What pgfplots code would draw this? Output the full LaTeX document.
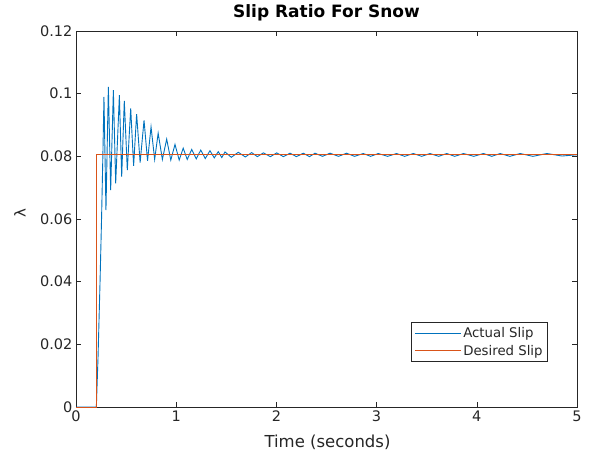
\documentclass[border=0pt]{standalone}
\usepackage{fontspec}
\setmainfont{DejaVu Sans}
\usepackage{pgfplots}
\pgfplotsset{compat=1.18}
\definecolor{mblue}{rgb}{0,0.447,0.741}
\definecolor{morange}{rgb}{0.85,0.325,0.098}
\definecolor{mgray}{rgb}{0.15,0.15,0.15}
\begin{document}
\begin{tikzpicture}
\begin{axis}[
  scale only axis, width=501pt, height=376pt,
  xmin=0, xmax=5, ymin=0, ymax=0.12,
  xtick={0,1,2,3,4,5}, xticklabels={0,1,2,3,4,5},
  ytick={0,0.02,0.04,0.06,0.08,0.1,0.12},
  yticklabels={0,0.02,0.04,0.06,0.08,0.1,0.12},
  xtick pos=both, ytick pos=both, tick align=inside,
  major tick length=5pt,
  axis line style={mgray}, tick style={mgray, line width=0.6pt},
  every axis/.append style={line width=0.6pt},
  ticklabel style={font=\fontsize{14.5}{16}\selectfont, text=mgray},
  /pgf/number format/assume math mode=true,
  title={Slip Ratio For Snow},
  title style={font=\fontsize{17}{19}\selectfont\bfseries, at={(axis description cs:0.5,1.032)}, anchor=center},
  xlabel={Time (seconds)},
  xlabel style={font=\fontsize{16.5}{18}\selectfont, text=mgray, at={(axis description cs:0.502,-0.094)}, anchor=center},
  ylabel={λ},
  ylabel style={font=\fontsize{15}{17}\selectfont, text=mgray, at={(axis description cs:-0.112,0.516)}, anchor=center},
  legend style={at={(0.942,0.12)}, anchor=south east, draw=mgray,
    font=\fontsize{13.3}{15}\selectfont, cells={anchor=west},
    inner xsep=3pt, inner ysep=3pt, row sep=2pt},
  legend image code/.code={\draw[#1] (0pt,0pt) -- (46pt,0pt);},
]
\addplot[mblue, line width=0.9pt] coordinates {
(0,0) (0.203,0) (0.22,0.016) (0.24,0.040) (0.255,0.060) (0.268,0.080) (0.279,0.099)
(0.299,0.0628) (0.323,0.1022) (0.346,0.0692) (0.373,0.1011) (0.396,0.0714)
(0.433,0.0995) (0.456,0.0735) (0.482,0.0977) (0.512,0.0756) (0.546,0.0953)
(0.575,0.0770) (0.605,0.0935) (0.64,0.0780) (0.679,0.0915) (0.714,0.0786)
(0.749,0.0894) (0.785,0.0790) (0.82,0.0874) (0.862,0.0790) (0.905,0.0855)
(0.946,0.0788) (0.988,0.0838) (1.03,0.0788) (1.07,0.0826) (1.11,0.0790)
(1.155,0.0822) (1.2,0.0792) (1.245,0.0820) (1.29,0.0793) (1.337,0.0818)
(1.38,0.0795) (1.42,0.0815) (1.455,0.0796) (1.487,0.0814) (1.55,0.0797)
(1.62,0.0813) (1.69,0.0798) (1.753,0.0812) (1.81,0.0799) (1.87,0.0811)
(1.94,0.0799) (2.003,0.0811) (2.07,0.0799) (2.136,0.0810) (2.2,0.0799)
(2.269,0.0810) (2.33,0.0799) (2.385,0.0810) (2.46,0.0800) (2.535,0.0810)
(2.62,0.0800) (2.7,0.0810) (2.78,0.0800) (2.867,0.0809) (2.94,0.0800)
(3.017,0.0809) (3.11,0.0800) (3.2,0.0809) (3.28,0.0800) (3.367,0.0809)
(3.45,0.0800) (3.533,0.0809) (3.62,0.0800) (3.7,0.0809) (3.78,0.0800)
(3.867,0.0809) (3.97,0.0800) (4.066,0.0809) (4.15,0.0800) (4.233,0.0809)
(4.33,0.0800) (4.433,0.0809) (4.56,0.0800) (4.7,0.0809) (4.85,0.0801) (5,0.0805)
};
\addlegendentry{\textcolor{mgray}{Actual Slip}}
\addplot[morange, line width=0.9pt] coordinates {
(0,0) (0.2,0) (0.2,0.0805) (5,0.0805)
};
\addlegendentry{\textcolor{mgray}{Desired Slip}}
\end{axis}
\pgfresetboundingbox
\path[use as bounding box] ([xshift=-76pt,yshift=-46pt]current axis.south west) rectangle ([xshift=17pt,yshift=31pt]current axis.north east);
\end{tikzpicture}
\end{document}
